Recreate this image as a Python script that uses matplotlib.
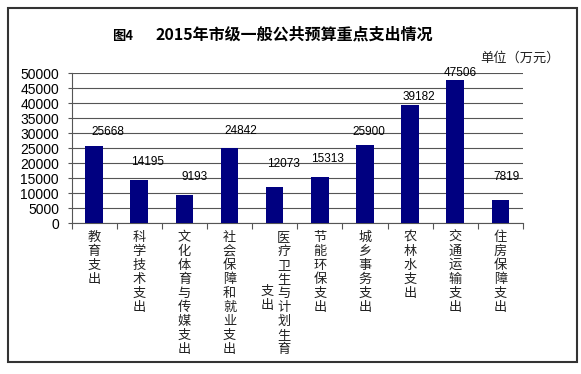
import numpy as np
import matplotlib.pyplot as plt
from matplotlib.patches import Rectangle
import matplotlib.transforms as mtransforms

plt.rcParams['font.family'] = ['Noto Sans CJK SC', 'DejaVu Sans']

# Categories and spending (unit: 10k yuan)
categories = ["教育支出", "科学技术支出", "文化体育与传媒支出", "社会保障和就业支出",
              "医疗卫生与计划生育支出", "节能环保支出", "城乡事务支出", "农林水支出",
              "交通运输支出", "住房保障支出"]
values = [25668, 14195, 9193, 24842, 12073, 15313, 25900, 39182, 47506, 7819]
yticks = np.arange(0, 50001, 5000)

# where the value labels sit (hand-placed in the original, data units)
label_y = [30400, 20400, 15200, 30800, 19700, 21300, 30400, 41900, 49900, 15200]
label_dx = [0.3, 0.18, 0.22, 0.25, 0.2, 0.16, 0.09, 0.2, 0.11, 0.13]

W, H = 581, 374
fig = plt.figure(figsize=(W / 100, H / 100), dpi=100)
fig.patch.set_facecolor("white")

# plot area in pixel coords
left, right, top, bottom = 71.5, 523, 73, 223
ax = fig.add_axes([left / W, 1 - bottom / H, (right - left) / W, (bottom - top) / H])

x = np.arange(len(categories))
ax.bar(x, values, width=0.39, color="#000080", zorder=3)
ax.set_xlim(-0.5, len(categories) - 0.5)
ax.set_ylim(0, 50000)
ax.set_yticks(yticks)
ax.set_yticklabels([str(v) for v in yticks], fontsize=10, family="Liberation Sans")
ax.yaxis.grid(True, color="#555555", linewidth=0.8, zorder=0)
ax.tick_params(axis="y", length=3, width=0.8, color="#555555", pad=6)
ax.set_xticks(np.arange(len(categories) + 1) - 0.5)
ax.set_xticklabels([])
ax.tick_params(axis="x", length=4, width=0.8, color="#555555", direction="out")
for s in ["top", "right"]:
    ax.spines[s].set_visible(False)
for s in ["left", "bottom"]:
    ax.spines[s].set_color("#555555")
    ax.spines[s].set_linewidth(0.8)

for xi, v, ly, dx in zip(x, values, label_y, label_dx):
    ax.text(xi + dx, ly, str(v), ha="center", va="center", fontsize=8.5,
            family="Liberation Sans", zorder=4)

# vertical stacked category labels
trans = mtransforms.blended_transform_factory(ax.transData, fig.transFigure)
label_top = 1 - 231 / H
for xi, lab in zip(x, categories):
    if len(lab) > 9:
        col1, col2 = lab[:9], lab[9:]
        ax.text(xi + 0.2, label_top, "\n".join(col1), transform=trans, ha="center",
                va="top", fontsize=9.5, linespacing=1.1, color="#222222")
        ax.text(xi - 0.17, 1 - 298 / H, "\n".join(col2), transform=trans, ha="center",
                va="center", fontsize=9.5, linespacing=1.1, color="#222222")
    else:
        ax.text(xi, label_top, "\n".join(lab), transform=trans, ha="center",
                va="top", fontsize=9.5, linespacing=1.1, color="#222222")

# title and unit
fig.text(112 / W, 1 - 36 / H, "图4", fontsize=9.5, fontweight="bold", va="center", ha="left")
fig.text(155 / W, 1 - 35 / H, "2015年市级一般公共预算重点支出情况", fontsize=11.5,
         fontweight="bold", va="center", ha="left")
fig.text(560 / W, 1 - 58 / H, "单位（万元）", fontsize=9.5, va="center", ha="right",
         color="#222222")

# outer frame
fig.patches.append(Rectangle((8 / W, 1 - 362 / H), 569 / W, 354 / H, fill=False,
                             edgecolor="#333333", linewidth=1.5,
                             transform=fig.transFigure, figure=fig))

fig.savefig("out.png", dpi=100)
